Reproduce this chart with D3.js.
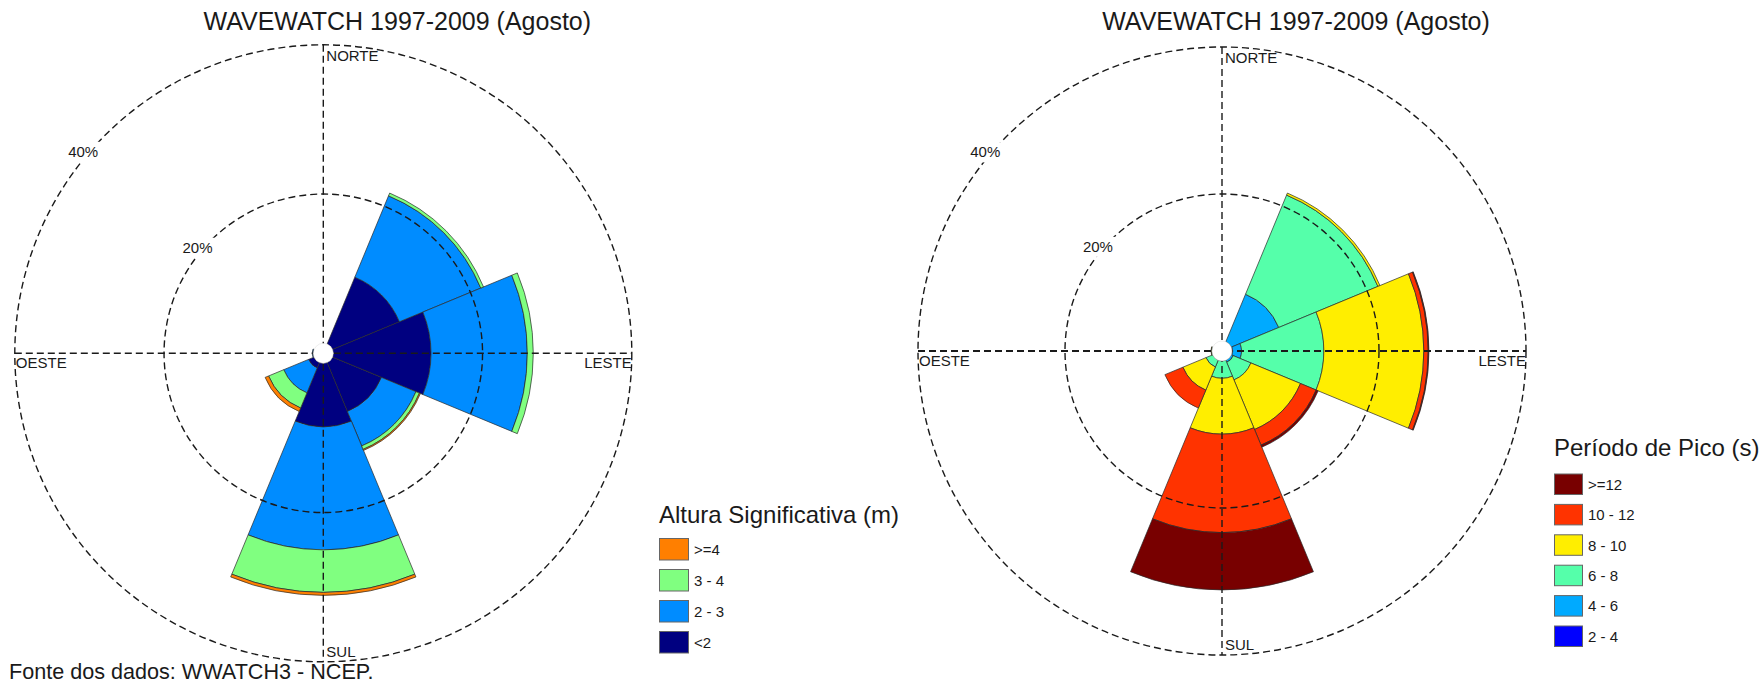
<!DOCTYPE html>
<html><head><meta charset="utf-8">
<script src="https://cdn.jsdelivr.net/npm/d3@7"></script>
<style>
body{margin:0;background:#fff}
svg{display:block}
text{font-family:"Liberation Sans",Arial,sans-serif;fill:#1a1a1a}
</style>
</head><body>
<svg id="c" width="1762" height="685"></svg>
<script>
// ---------- DATA ----------
const directions = ["N","NE","E","SE","S","SW","W","NW"];
const titleText = "WAVEWATCH 1997-2009 (Agosto)";
const cardinalLabels = {N:"NORTE", E:"LESTE", S:"SUL", W:"OESTE"};
const ringTicks = [20, 40];
const ringTickLabels = ["20%", "40%"];
const sourceText = "Fonte dos dados: WWATCH3 - NCEP.";

// Altura Significativa (m) – % of occurrences per direction (inner → outer)
const hsTitle = "Altura Significativa (m)";
const hsClasses = ["<2", "2 - 3", "3 - 4", ">=4"];
const hsLt2   = [0, 9.7, 13.1, 7.1, 8.5, 0.8, 0.05, 0];
const hs2to3  = [0, 11.8, 12.9, 5.0, 16.5, 3.6, 0.1, 0];
const hs3to4  = [0, 0.4, 0.8, 0.5, 5.7, 2.2, 0, 0];
const hsGe4   = [0, 0, 0, 0.15, 0.4, 0.5, 0, 0];
const hsColors = ["#000080", "#008cff", "#80ff80", "#ff7f00"];

// Período de Pico (s) – % of occurrences per direction (inner → outer)
const tpTitle = "Período de Pico (s)";
const tpClasses = ["2 - 4", "4 - 6", "6 - 8", "8 - 10", "10 - 12", ">=12"];
const tp2to4   = [0, 0, 0.1, 0, 0, 0, 0, 0];
const tp4to6   = [0, 7.0, 1.2, 0.3, 0, 0, 0, 0];
const tp6to8   = [0, 14.6, 11.2, 2.6, 2.35, 1.0, 0.1, 0];
const tp8to10  = [0, 0.3, 13.6, 7.3, 7.6, 3.4, 0.05, 0];
const tp10to12 = [0, 0, 0.6, 2.3, 13.4, 2.65, 0, 0];
const tpGe12   = [0, 0, 0.1, 0.3, 7.8, 0, 0, 0];
const tpColors = ["#0000ff", "#00aaff", "#55ffaa", "#ffee00", "#ff3300", "#780000"];

// ---------- DRAW ----------
const svg = d3.select("#c");

function drawRose(cfg) {
  const g = svg.append("g").attr("transform", `translate(${cfg.cx},${cfg.cy})`);
  const r = d3.scaleLinear().domain([0, 40]).range([10, cfg.R]);
  const keys = cfg.classes.map((d, i) => "k" + i);
  const rows = directions.map((d, j) => {
    const o = {dir: d, idx: j};
    cfg.series.forEach((s, i) => o["k" + i] = s[j]);
    return o;
  });
  const stacked = d3.stack().keys(keys)(rows);
  const step = 2 * Math.PI / directions.length;
  const arc = d3.arc();
  const color = d3.scaleOrdinal().domain(keys).range(cfg.colors);

  stacked.forEach(layer => {
    g.append("g").selectAll("path")
      .data(layer.filter(d => d[1] - d[0] > 0))
      .join("path")
      .attr("d", d => arc({
        innerRadius: r(d[0]), outerRadius: r(d[1]),
        startAngle: d.data.idx * step - step / 2,
        endAngle: d.data.idx * step + step / 2
      }))
      .attr("fill", color(layer.key))
      .attr("stroke", "#2a2a2a")
      .attr("stroke-width", 0.7);
  });

  // grid
  const grid = g.append("g").attr("fill", "none").attr("stroke", "#1a1a1a")
    .attr("stroke-dasharray", "7,4").attr("stroke-width", 1.4);
  ringTicks.forEach(t => grid.append("circle").attr("r", r(t)));
  grid.append("line").attr("x1", 0).attr("x2", 0).attr("y1", -r(40)).attr("y2", r(40));
  grid.append("line").attr("y1", 0).attr("y2", 0).attr("x1", -r(40)).attr("x2", r(40))
    .attr("stroke-width", cfg.hWidth);

  // center hole
  g.append("circle").attr("r", 10).attr("fill", "#fff").attr("stroke", "#ddd").attr("stroke-width", 0.5);

  // ring labels
  const ang = 310 * Math.PI / 180;
  ringTicks.forEach((t, i) => {
    const rr = r(t) + 5;
    const x = rr * Math.sin(ang), y = -rr * Math.cos(ang);
    g.append("rect").attr("x", x - 20).attr("y", y - 10).attr("width", 40).attr("height", 20).attr("fill", "#fff");
    g.append("text").attr("x", x).attr("y", y + 5).attr("text-anchor", "middle")
      .attr("font-size", 15).text(ringTickLabels[i]);
  });

  // cardinal labels
  const R = r(40);
  g.append("text").attr("x", 3).attr("y", -R + 16).attr("font-size", 15).text(cardinalLabels.N);
  g.append("text").attr("x", 3).attr("y", R - 5).attr("font-size", 15).text(cardinalLabels.S);
  g.append("text").attr("x", -R + 1).attr("y", 15).attr("font-size", 15).text(cardinalLabels.W);
  g.append("text").attr("x", R).attr("y", 15).attr("text-anchor", "end").attr("font-size", 15).text(cardinalLabels.E);

  // title
  svg.append("text").attr("x", cfg.cx + 74).attr("y", 30).attr("text-anchor", "middle")
    .attr("font-size", 25).text(titleText);

  // legend
  const lg = svg.append("g").attr("transform", `translate(${cfg.lx},${cfg.ly})`);
  lg.append("text").attr("x", 0).attr("y", 0).attr("font-size", 24).text(cfg.legendTitle);
  const items = cfg.classes.map((c, i) => ({c, col: cfg.colors[i]})).reverse();
  items.forEach((it, i) => {
    const y = cfg.sw0 + i * cfg.swStep;
    lg.append("rect").attr("x", 0.5).attr("y", y).attr("width", cfg.swW).attr("height", cfg.swH)
      .attr("fill", it.col).attr("stroke", "#666").attr("stroke-width", 1);
    lg.append("text").attr("x", cfg.swW + 6).attr("y", y + cfg.swH / 2 + 5.5)
      .attr("font-size", 15).text(it.c);
  });
}

drawRose({
  cx: 323.3, cy: 353.3, R: 308.5, hWidth: 1.4,
  classes: hsClasses, series: [hsLt2, hs2to3, hs3to4, hsGe4], colors: hsColors,
  legendTitle: hsTitle, lx: 659, ly: 522.5, sw0: 16, swStep: 31, swW: 29, swH: 21.5
});
drawRose({
  cx: 1222, cy: 351, R: 304, hWidth: 2.2,
  classes: tpClasses, series: [tp2to4, tp4to6, tp6to8, tp8to10, tp10to12, tpGe12], colors: tpColors,
  legendTitle: tpTitle, lx: 1554, ly: 455.5, sw0: 18.5, swStep: 30.4, swW: 28, swH: 20.5
});

svg.append("text").attr("x", 9).attr("y", 679).attr("font-size", 21.6).text(sourceText);
</script>
</body></html>
